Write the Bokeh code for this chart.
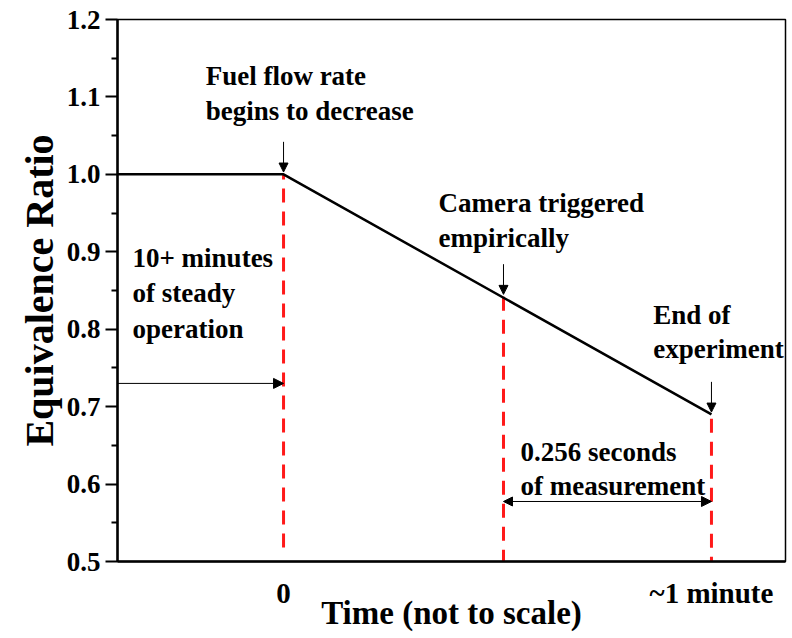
from bokeh.plotting import figure
from bokeh.models import Range1d, FixedTicker, Arrow, NormalHead, ColumnDataSource
from bokeh.core.properties import value
from bokeh.embed import file_html
from bokeh.resources import INLINE

# Equivalence-ratio schedule (time axis is schematic, not to scale)
TIME = [-0.388, 0.0, 1.0]
PHI = [1.0, 1.0, 0.69]

# Event markers: fuel ramp start, camera trigger, end of experiment
EVENT_TIME = [0.0, 0.514, 1.0]
EVENT_PHI = [1.0, 0.842, 0.69]
EVENT_FLOOR = [0.518, 0.497, 0.488]

Y_TICKS = [0.5, 0.6, 0.7, 0.8, 0.9, 1.0, 1.1, 1.2]
X_TICKS = [0.0, 1.0]
X_TICK_LABELS = ["0", "~1 minute"]

# Annotation text lines: (x, baseline y, text)
NOTES = [
    (-0.182, 1.127, "Fuel flow rate"),
    (-0.182, 1.082, "begins to decrease"),
    (0.362, 0.963, "Camera triggered"),
    (0.362, 0.918, "empirically"),
    (-0.353, 0.892, "10+ minutes"),
    (-0.353, 0.847, "of steady"),
    (-0.353, 0.800, "operation"),
    (0.864, 0.819, "End of"),
    (0.864, 0.774, "experiment"),
    (0.554, 0.642, "0.256 seconds"),
    (0.554, 0.597, "of measurement"),
]

STEADY_ARROW_Y = 0.73
MEASURE_ARROW_Y = 0.5775

FONT = "Liberation Serif"

p = figure(width=792, height=638, output_backend="svg", toolbar_location=None,
           x_range=Range1d(-0.388, 1.173), y_range=Range1d(0.5, 1.2),
           min_border_left=117, min_border_right=7, min_border_top=19,
           min_border_bottom=77)

p.grid.visible = False
p.background_fill_color = "white"
p.border_fill_color = "white"
p.outline_line_color = "black"
p.outline_line_width = 1.5

# y axis
ya = p.yaxis[0]
ya.ticker = FixedTicker(ticks=Y_TICKS, minor_ticks=[0.55, 0.65, 0.75, 0.85, 0.95, 1.05, 1.15])
ya.major_label_overrides = {t: f"{t:.1f}" for t in Y_TICKS}
ya.axis_line_width = 2.5
ya.major_tick_line_width = 2
ya.minor_tick_line_width = 2
ya.major_tick_in = 0
ya.major_tick_out = 12
ya.minor_tick_in = 0
ya.minor_tick_out = 6
ya.major_label_standoff = 5
ya.major_label_text_font = FONT
ya.major_label_text_font_style = "bold"
ya.major_label_text_font_size = "27px"
ya.major_label_text_color = "black"
ya.axis_label = "Equivalence Ratio"
ya.axis_label_text_font = FONT
ya.axis_label_text_font_style = "bold"
ya.axis_label_text_font_size = "40px"
ya.axis_label_text_color = "black"
ya.axis_label_standoff = 2

# x axis
xa = p.xaxis[0]
xa.ticker = FixedTicker(ticks=X_TICKS, minor_ticks=[])
xa.major_label_overrides = dict(zip(X_TICKS, X_TICK_LABELS))
xa.axis_line_width = 2.5
xa.major_tick_in = 0
xa.major_tick_out = 0
xa.minor_tick_in = 0
xa.minor_tick_out = 0
xa.major_label_standoff = 15
xa.major_label_text_font = FONT
xa.major_label_text_font_style = "bold"
xa.major_label_text_font_size = "29px"
xa.major_label_text_color = "black"
xa.axis_label = "Time (not to scale)"
xa.axis_label_text_font = FONT
xa.axis_label_text_font_style = "bold"
xa.axis_label_text_font_size = "33px"
xa.axis_label_text_color = "black"
xa.axis_label_standoff = -17

# event markers (red dashed)
p.segment(x0=EVENT_TIME, y0=EVENT_FLOOR, x1=EVENT_TIME, y1=EVENT_PHI,
          line_color="#ff1a1a", line_width=3, line_dash="14 9")

# equivalence ratio trace
p.line(TIME, PHI, line_color="black", line_width=2.5)

# small pointer arrows above each event
for t, phi in zip(EVENT_TIME, EVENT_PHI):
    p.add_layout(Arrow(x_start=t, y_start=phi + 0.042, x_end=t, y_end=phi + 0.003,
                       line_width=1, line_color="black",
                       end=NormalHead(size=9, fill_color="black", line_color="black")))

# duration arrows
p.add_layout(Arrow(x_start=TIME[0], y_start=STEADY_ARROW_Y, x_end=EVENT_TIME[0], y_end=STEADY_ARROW_Y,
                   line_width=1, line_color="black",
                   end=NormalHead(size=10, fill_color="black", line_color="black")))
p.add_layout(Arrow(x_start=EVENT_TIME[1], y_start=MEASURE_ARROW_Y, x_end=EVENT_TIME[2], y_end=MEASURE_ARROW_Y,
                   line_width=1, line_color="black",
                   start=NormalHead(size=9, fill_color="black", line_color="black"),
                   end=NormalHead(size=10, fill_color="black", line_color="black")))

notes = ColumnDataSource(dict(x=[n[0] for n in NOTES], y=[n[1] for n in NOTES],
                              text=[n[2] for n in NOTES]))
p.text(x="x", y="y", text="text", source=notes, text_font=value(FONT),
       text_font_style="bold", text_font_size="27px", text_color="black",
       text_align="left", text_baseline="alphabetic")

open("out.html", "w").write(file_html(p, INLINE))
